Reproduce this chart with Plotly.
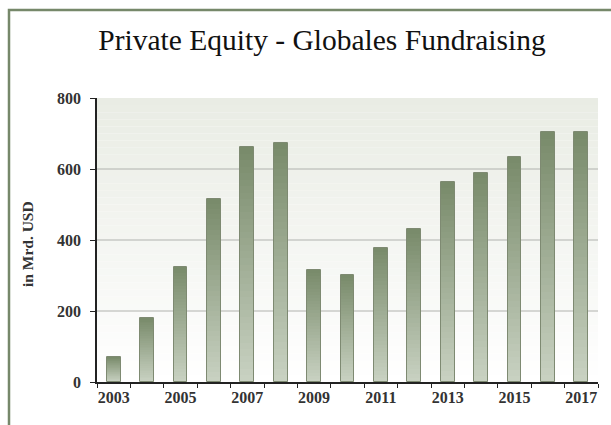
import plotly.graph_objects as go

# Global private-equity fundraising, in billion USD
years = [2003, 2004, 2005, 2006, 2007, 2008, 2009, 2010,
         2011, 2012, 2013, 2014, 2015, 2016, 2017]
fundraising = [70, 180, 325, 515, 662, 674, 316, 302,
               378, 430, 562, 590, 634, 703, 703]
y_ticks = [0, 200, 400, 600, 800]
x_label_years = [2003, 2005, 2007, 2009, 2011, 2013, 2015, 2017]

W, H = 611, 425
M_L, M_R, M_T, M_B = 97, 13, 98, 43
PLOT_W = W - M_L - M_R


def px_to_paper_x(px):
    return (px - M_L) / PLOT_W


def px_to_paper_y(py):
    return 1 - (py - M_T) / (H - M_T - M_B)


def mix(c1, c2, t):
    r = [round(a + (b - a) * t) for a, b in zip(c1, c2)]
    return f"rgb({r[0]},{r[1]},{r[2]})"


BAR_TOP = (121, 139, 107)
BAR_BOTTOM = (200, 209, 193)
BG_TOP = (233, 236, 228)
BG_BOTTOM = (255, 255, 255)
BAR_WIDTH = 0.41

fig = go.Figure()

# vertical gradient on each bar: stacked overlays, lighter toward the base
N_LAYERS = 36
for k in range(N_LAYERS):
    frac = 1 - k / N_LAYERS
    fig.add_trace(go.Bar(
        x=years,
        y=[v * frac for v in fundraising],
        width=BAR_WIDTH,
        marker=dict(color=mix(BAR_TOP, BAR_BOTTOM, k / (N_LAYERS - 1)),
                    line=dict(width=0)),
        hoverinfo="skip",
        showlegend=False,
    ))

# thin outline around each bar
fig.add_trace(go.Bar(
    x=years,
    y=fundraising,
    width=BAR_WIDTH,
    marker=dict(color="rgba(0,0,0,0)",
                line=dict(color="rgb(126,138,114)", width=1)),
    showlegend=False,
))

shapes = []
# plot background gradient
N_BG = 40
top = max(y_ticks)
for i in range(N_BG):
    y0 = top * i / N_BG
    y1 = top * (i + 1) / N_BG
    shapes.append(dict(
        type="rect", xref="paper", yref="y", x0=0, x1=1, y0=y0, y1=y1,
        fillcolor=mix(BG_BOTTOM, BG_TOP, (i + 0.5) / N_BG),
        line=dict(width=0), layer="below",
    ))
# horizontal grid lines
for gv in y_ticks[1:-1]:
    shapes.append(dict(
        type="line", xref="paper", yref="y", x0=0, x1=1, y0=gv, y1=gv,
        line=dict(color="rgb(176,178,174)", width=1), layer="between",
    ))
# outer frame
shapes.append(dict(
    type="rect", xref="paper", yref="paper",
    x0=px_to_paper_x(9), x1=px_to_paper_x(W + 20),
    y0=px_to_paper_y(H + 20), y1=px_to_paper_y(10),
    line=dict(color="rgb(118,136,106)", width=2.5),
    fillcolor="rgba(0,0,0,0)", layer="above",
))

tick_font = dict(family="Liberation Serif", size=16, color="#333333",
                 weight="bold")

fig.update_layout(
    width=W, height=H,
    margin=dict(l=M_L, r=M_R, t=M_T, b=M_B),
    paper_bgcolor="white",
    plot_bgcolor="rgba(0,0,0,0)",
    barmode="overlay",
    bargap=0,
    title=dict(
        text="Private Equity - Globales Fundraising",
        font=dict(family="Liberation Serif", size=29.5, color="#111111"),
        x=322 / W, xanchor="center", xref="container",
        y=1 - 40 / H, yanchor="middle", yref="container",
    ),
    xaxis=dict(
        range=[years[0] - 0.5, years[-1] + 0.5],
        tickmode="array",
        tickvals=x_label_years,
        ticktext=[str(y) for y in x_label_years],
        ticks="",
        tickfont=tick_font,
        showgrid=False,
        zeroline=False,
        showline=True, linecolor="#222222", linewidth=1.5,
        minor=dict(tick0=years[0] - 0.5, dtick=1, ticks="outside",
                   ticklen=4, tickcolor="#222222", tickwidth=1,
                   showgrid=False),
    ),
    yaxis=dict(
        range=[0, top],
        tickmode="array",
        tickvals=y_ticks,
        ticks="outside", ticklen=5, tickcolor="#222222",
        ticklabelstandoff=6,
        tickfont=tick_font,
        showgrid=False,
        zeroline=False,
        showline=True, linecolor="#222222", linewidth=1.5,
    ),
    shapes=shapes,
    annotations=[dict(
        text="<b>in Mrd. USD</b>", textangle=-90,
        xref="paper", yref="paper",
        x=px_to_paper_x(27), y=px_to_paper_y(244),
        xanchor="center", yanchor="middle", showarrow=False,
        font=dict(family="Liberation Serif", size=15.5, color="#333333"),
    )],
)

fig.write_html("out.html")
